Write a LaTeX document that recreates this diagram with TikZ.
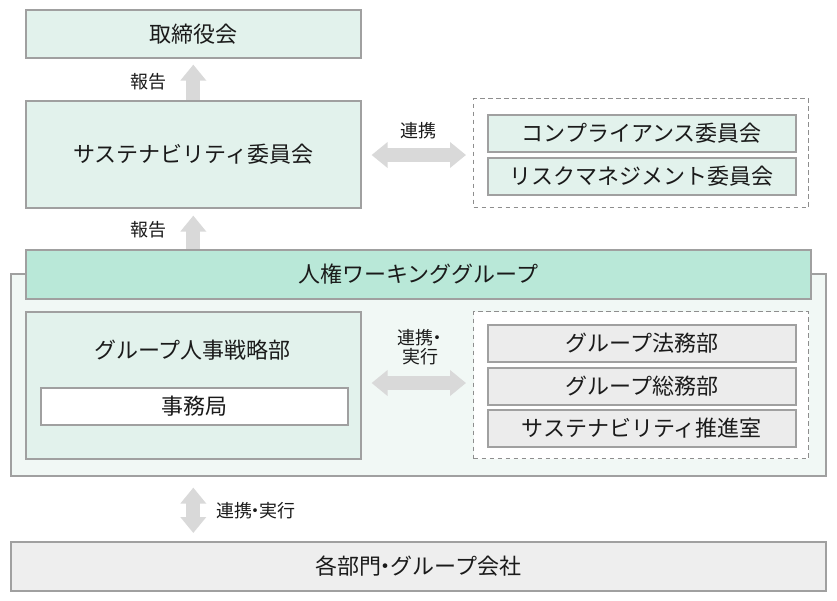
\documentclass[tikz,border=0pt]{standalone}
\usepackage{fontspec}
\setmainfont{Noto Sans CJK JP}
\usetikzlibrary{arrows.meta}
\definecolor{mintL}{HTML}{E2F2EC}
\definecolor{mintD}{HTML}{B9E8D8}
\definecolor{outerF}{HTML}{F1F8F5}
\definecolor{grayF}{HTML}{ECECEC}
\definecolor{botF}{HTML}{EEEEEE}
\definecolor{bord}{HTML}{A0A0A0}
\definecolor{dbord}{HTML}{8E8E8E}
\definecolor{arrG}{HTML}{D9D9D9}
\definecolor{txt}{HTML}{1A1A1A}
\newcommand{\ndot}{\kern-0.3em・\kern-0.3em}
\tikzset{
  box/.style={draw=bord, line width=1.6pt, anchor=north west, inner sep=0pt, text=txt, font=\fontsize{22}{26}\selectfont},
  dbox/.style={draw=dbord, line width=1.4pt, dash pattern=on 4.5pt off 3.5pt, anchor=north west, fill=white, inner sep=0pt},
  lbl/.style={text=txt, font=\fontsize{18}{21}\selectfont, inner sep=0pt},
  blk/.style={draw=arrG, line width=14pt},
  tipU/.style={-{Triangle[width=25pt,length=16pt]}},
  tipB/.style={{Triangle[width=25pt,length=16pt]}-{Triangle[width=25pt,length=16pt]}}
}
\begin{document}
\begin{tikzpicture}[x=1pt,y=-1pt]
\useasboundingbox (0,0) rectangle (837,600);
% top
\node[box, fill=mintL, minimum width=335pt, minimum height=48pt] (board) at (25,9) {取締役会};
\node[box, fill=mintL, minimum width=335pt, minimum height=107pt] (sus) at (25,100) {サステナビリティ委員会};
\node[dbox, minimum width=335pt, minimum height=109pt] (d1) at (473,98) {};
\node[box, fill=mintL, minimum width=308pt, minimum height=37pt] (comp) at (487,114) {コンプライアンス委員会};
\node[box, fill=mintL, minimum width=308pt, minimum height=37pt] (risk) at (487,157) {リスクマネジメント委員会};
% middle group
\node[box, fill=outerF, minimum width=815pt, minimum height=202pt] (outer) at (10,273) {};
\node[box, fill=mintD, minimum width=785pt, minimum height=49pt] (wg) at (25,249) {人権ワーキンググループ};
\node[box, fill=mintL, minimum width=335pt, minimum height=147pt] (hr) at (25,311) {};
\node[text=txt, font=\fontsize{22}{26}\selectfont, inner sep=0pt] (hrt) at (192.5,350) {グループ人事戦略部};
\node[box, fill=white, minimum width=307pt, minimum height=37pt] (sec) at (40,387) {事務局};
\node[dbox, minimum width=335pt, minimum height=147pt] (d2) at (473,311) {};
\node[box, fill=grayF, minimum width=308pt, minimum height=37pt] (legal) at (487,324) {グループ法務部};
\node[box, fill=grayF, minimum width=308pt, minimum height=37pt] (ga) at (487,367) {グループ総務部};
\node[box, fill=grayF, minimum width=308pt, minimum height=37pt] (sp) at (487,409) {サステナビリティ推進室};
% bottom
\node[box, fill=botF, minimum width=815pt, minimum height=49pt] (bot) at (10,541) {各部門\ndot グループ会社};
% arrows
\draw[blk, tipU, shorten >=6pt] (sus.north) -- (board.south);
\draw[blk, tipU, shorten >=7pt] (sus.south |- wg.north) -- (sus.south);
\draw[blk, tipB, shorten <=10pt, shorten >=7pt] (sus.east |- 0,155) -- (d1.west |- 0,155);
\draw[blk, tipB, shorten <=10pt, shorten >=7pt] (hr.east |- 0,383) -- (d2.west |- 0,383);
\draw[blk, tipB, shorten <=11pt, shorten >=8pt] (outer.south -| sus.south) -- (bot.north -| sus.south);
% labels
\node[lbl] (l1) at (148,82) {報告};
\node[lbl] (l2) at (148,230) {報告};
\node[lbl] (l3) at (418,131) {連携};
\node[lbl, align=center] (l4) at (420,347) {連携\kern-0.3em・\kern-0.2em\\[-2pt]実行};
\node[lbl, anchor=west] (l5) at (216,511) {連携\ndot 実行};
\end{tikzpicture}
\end{document}
